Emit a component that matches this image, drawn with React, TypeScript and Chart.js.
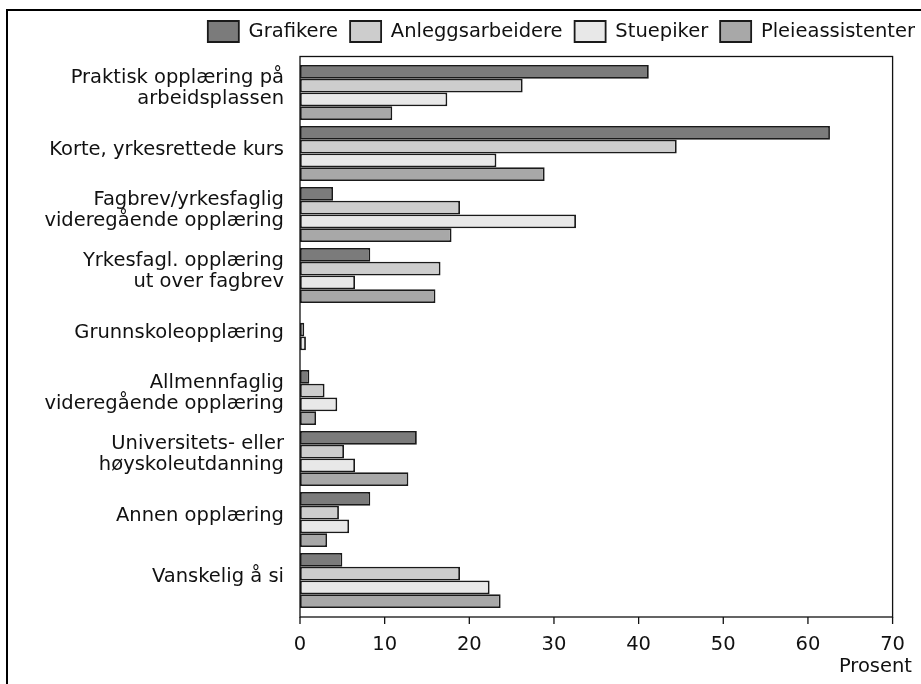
import React, { useEffect, useRef } from "react";
import { Chart, registerables } from "chart.js";

Chart.register(...registerables);

const categories: (string | string[])[] = [
  ["Praktisk opplæring på", "arbeidsplassen"],
  "Korte, yrkesrettede kurs",
  ["Fagbrev/yrkesfaglig", "videregående opplæring"],
  ["Yrkesfagl. opplæring", "ut over fagbrev"],
  "Grunnskoleopplæring",
  ["Allmennfaglig", "videregående opplæring"],
  ["Universitets- eller", "høyskoleutdanning"],
  "Annen opplæring",
  "Vanskelig å si",
];

const seriesNames = ["Grafikere", "Anleggsarbeidere", "Stuepiker", "Pleieassistenter"];

const grafikere = [41.2, 62.6, 3.9, 8.3, null, 1.1, 13.8, 8.3, 5.0];
const anleggsarbeidere = [26.3, 44.5, 18.9, 16.6, 0.5, 2.9, 5.2, 4.6, 18.9];
const stuepiker = [17.4, 23.2, 32.6, 6.5, 0.7, 4.4, 6.5, 5.8, 22.4];
const pleieassistenter = [10.9, 28.9, 17.9, 16.0, null, 1.9, 12.8, 3.2, 23.7];

const xTicks = [0, 10, 20, 30, 40, 50, 60, 70];
const xTitle = "Prosent";

const seriesColors = ["#7b7b7b", "#cdcdcd", "#e8e8e8", "#a8a8a8"];

const FONT = "'DejaVu Sans', sans-serif";
const FSIZE = 19.5;
const TEXT = "#111111";

export default function App() {
  const ref = useRef<HTMLCanvasElement>(null);

  useEffect(() => {
    if (!ref.current) return;
    const seriesData = [grafikere, anleggsarbeidere, stuepiker, pleieassistenter];

    const framePlugin = {
      id: "framePlugin",
      beforeDraw(chart: any) {
        const ctx = chart.ctx;
        ctx.save();
        ctx.fillStyle = "#ffffff";
        ctx.fillRect(0, 0, chart.width, chart.height);
        ctx.fillStyle = "#000000";
        ctx.fillRect(6, 9, 2, chart.height);
        ctx.fillRect(6, 9, chart.width, 2);
        ctx.restore();
      },
      afterDraw(chart: any) {
        const { ctx, chartArea } = chart;
        const xs = chart.scales.x;
        const top = chartArea.top - 5.5;
        const bottom = chartArea.bottom + 6;
        ctx.save();
        ctx.strokeStyle = "#111111";
        ctx.lineWidth = 1.3;
        ctx.strokeRect(chartArea.left, top, chartArea.right - chartArea.left, bottom - top);
        xTicks.forEach((v) => {
          const px = xs.getPixelForValue(v);
          ctx.beginPath();
          ctx.moveTo(px, bottom);
          ctx.lineTo(px, bottom + 7);
          ctx.stroke();
        });
        ctx.fillStyle = TEXT;
        ctx.font = `${FSIZE}px ${FONT}`;
        ctx.textAlign = "right";
        ctx.textBaseline = "alphabetic";
        ctx.fillText(xTitle, 912, 672);
        ctx.restore();
      },
    };

    const chart = new Chart(ref.current, {
      type: "bar",
      data: {
        labels: categories as any,
        datasets: seriesNames.map((name, i) => ({
          label: name,
          data: seriesData[i] as any,
          backgroundColor: seriesColors[i],
          borderColor: "#1a1a1a",
          borderWidth: 1.8,
          borderSkipped: false,
          categoryPercentage: 0.9016,
          barPercentage: 1,
          xAxisID: "x",
          yAxisID: "y",
        })),
      },
      options: {
        indexAxis: "y",
        animation: false,
        responsive: false,
        devicePixelRatio: 1,
        layout: { padding: { top: 9, left: 0, right: 0, bottom: 0 } },
        plugins: {
          legend: {
            position: "top",
            align: "end",
            labels: {
              boxWidth: 31,
              boxHeight: 21,
              padding: 12,
              color: TEXT,
              font: { family: FONT, size: FSIZE },
            },
          },
          tooltip: { enabled: false },
          title: { display: false },
        },
        scales: {
          x: {
            type: "linear",
            position: "bottom",
            min: 0,
            max: 70,
            ticks: { stepSize: 10, color: TEXT, font: { family: FONT, size: FSIZE }, padding: 22 },
            grid: { display: false, drawTicks: false },
            border: { display: false },
            afterFit(s: any) {
              s.height = 73;
            },
          },
          xT: {
            type: "linear",
            position: "top",
            display: true,
            ticks: { display: false },
            grid: { display: false, drawTicks: false },
            border: { display: false },
            afterFit(s: any) {
              s.height = 10;
            },
          },
          y: {
            type: "category",
            position: "left",
            ticks: {
              color: TEXT,
              font: { family: FONT, size: FSIZE, lineHeight: 1.11 },
              padding: 16,
              labelOffset: -4,
              autoSkip: false,
            },
            grid: { display: false, drawTicks: false },
            border: { display: false },
            afterFit(s: any) {
              s.width = 300;
            },
          },
          yR: {
            type: "category",
            position: "right",
            display: true,
            ticks: { display: false },
            grid: { display: false, drawTicks: false },
            border: { display: false },
            afterFit(s: any) {
              s.width = 33;
            },
          },
        },
      } as any,
      plugins: [framePlugin],
    });

    return () => chart.destroy();
  }, []);

  return (
    <div
      style={{
        position: "fixed",
        left: 0,
        top: 0,
        width: 921,
        height: 684,
        overflow: "hidden",
        background: "#ffffff",
      }}
    >
      <canvas ref={ref} width={927} height={684} style={{ width: 927, height: 684, display: "block" }} />
    </div>
  );
}
